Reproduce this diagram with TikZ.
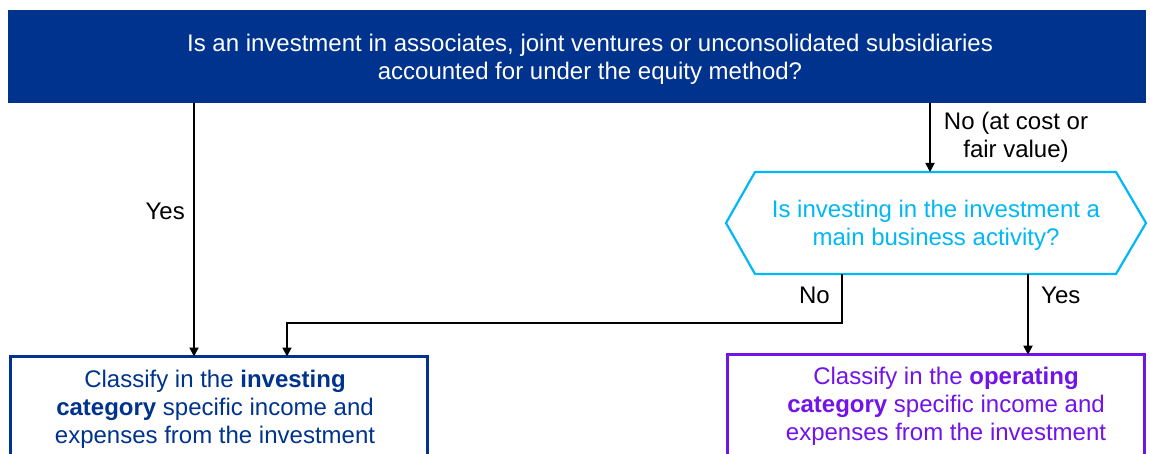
\documentclass[tikz,border=0pt]{standalone}
\usepackage{fontspec}
\setmainfont{Liberation Sans}
\usetikzlibrary{arrows.meta}
\definecolor{kblue}{HTML}{00338D}
\definecolor{kcyan}{HTML}{00B8F5}
\definecolor{kpurple}{HTML}{7213EA}
\begin{document}
\begin{tikzpicture}[x=1pt,y=-1pt,
  txt/.style={font=\fontsize{24}{28}\selectfont, align=center, inner sep=0pt},
  arr/.style={line width=1.8pt, -{Triangle[length=9pt,width=9pt]}},
  framebox/.style={draw, line width=3pt, minimum width=417pt, minimum height=140pt, anchor=north west, inner sep=0pt, outer sep=0pt},
]
\useasboundingbox (0,0) rectangle (1150,454);
\clip (0,0) rectangle (1150,454);
\fill[white] (0,0) rectangle (1150,454);

% top question
\node[fill=kblue, minimum width=1138pt, minimum height=93pt, anchor=north west, inner sep=0pt, outer sep=0pt] (q1) at (8,10) {};
\node[txt, text=white] (q1t) at (590,59) {Is an investment in associates, joint ventures or unconsolidated subsidiaries\\accounted for under the equity method?};

% hexagon question
\node[minimum width=420pt, minimum height=102pt, inner sep=0pt, outer sep=0pt] (q2) at (936,223) {};
\draw[kcyan, line width=2.2pt, line join=miter] (q2.west) -- ([xshift=29pt]q2.north west) -- ([xshift=-30pt]q2.north east) -- (q2.east) -- ([xshift=-30pt]q2.south east) -- ([xshift=29pt]q2.south west) -- cycle;
\node[txt, text=kcyan] (q2t) at (936,225) {Is investing in the investment a\\main business activity?};

% result boxes
\node[framebox, draw=kblue] (inv) at (10.5,356.5) {};
\node[txt, text=kblue] (invt) at (215,409) {Classify in the \textbf{investing}\\\textbf{category} specific income and\\expenses from the investment};
\node[framebox, draw=kpurple] (op) at (727.5,354.7) {};
\node[txt, text=kpurple] (opt) at (946,406.5) {Classify in the \textbf{operating}\\\textbf{category} specific income and\\expenses from the investment};

% connector coordinates
\coordinate (ax) at (194,0);
\coordinate (bx) at (930,0);
\coordinate (cx) at (842,323);
\coordinate (dx) at (287,323);
\coordinate (ex) at (1028,0);

% connectors
\draw[arr] (q1.south -| ax) -- (inv.north -| ax);
\draw[arr] (q1.south -| bx) -- (q2.north -| bx);
\draw[arr] (q2.south -| cx) -- (cx) -- (dx) -- (inv.north -| dx);
\draw[arr] (q2.south -| ex) -- (op.north -| ex);

% labels
\node[txt, anchor=east] (lyes1) at (185,211) {Yes};
\node[txt] (lno1) at (1016,137) {No (at cost or\\fair value)};
\node[txt, anchor=east] (lno2) at (830,295) {No};
\node[txt, anchor=west] (lyes2) at (1041,295) {Yes};
\end{tikzpicture}
\end{document}
